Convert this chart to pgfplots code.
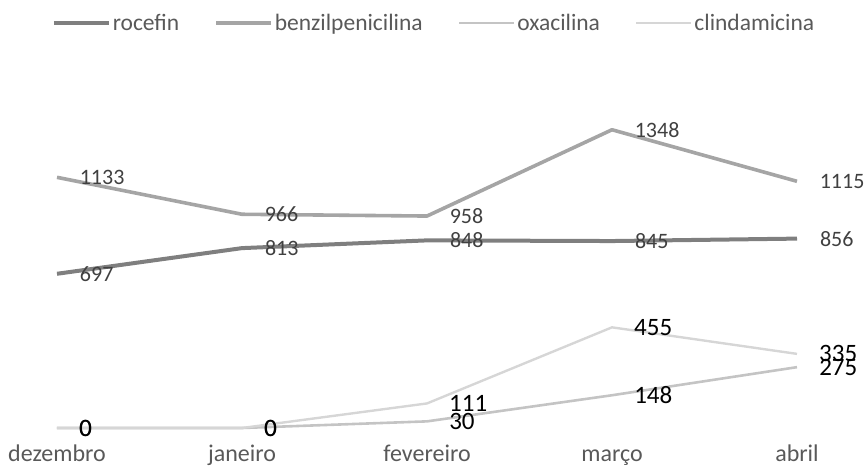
\documentclass[border=0pt]{standalone}
\usepackage{fontspec}
\setmainfont{Carlito}
\usepackage{pgfplots}
\pgfplotsset{compat=1.18}
\definecolor{cRoc}{HTML}{7F7F7F}
\definecolor{cBen}{HTML}{A5A5A5}
\definecolor{cOxa}{HTML}{C4C4C4}
\definecolor{cCli}{HTML}{D6D6D6}
\definecolor{txtgray}{HTML}{595959}
\definecolor{lblgray}{HTML}{404040}
\begin{document}
\begin{tikzpicture}
\path[use as bounding box] (-57pt,-41pt) rectangle (810pt,428pt);
\begin{axis}[
  at={(0pt,0pt)}, anchor=south west,
  scale only axis, width=740pt, height=354pt,
  xmin=0, xmax=4, ymin=0, ymax=1600,
  clip=false,
  axis line style={draw=none},
  major tick length=0pt,
  ytick=\empty,
  xtick={0,1,2,3,4},
  xticklabels={dezembro,janeiro,fevereiro,março,abril},
  xticklabel style={font=\fontsize{24}{28}\selectfont, text=txtgray, anchor=base, inner sep=0pt, yshift=-33pt},
  /pgf/number format/1000 sep={},
  /pgf/number format/assume math mode=true,
  line join=round,
  nodes near coords,
  every node near coord/.append style={anchor=west, xshift=21pt, inner sep=0pt},
  legend columns=4,
  legend style={draw=none, fill=none, at={(0.5,1)}, anchor=center, yshift=51pt, xshift=7pt,
    font=\fontsize{23.5}{27}\selectfont, text=txtgray,
    /tikz/every even column/.append style={column sep=33pt},
    /tikz/every odd column/.append style={column sep=0pt},
    cells={anchor=west}},
  legend image code/.code={\draw[#1] (0pt,0pt) -- (55pt,0pt);},
]
\addplot[cRoc, line width=4pt, every node near coord/.append style={font=\fontsize{22}{26}\selectfont, text=lblgray}]
  coordinates {(0,697) (1,813) (2,848) (3,845) (4,856)};
\addlegendentry{rocefin}
\addplot[cBen, line width=3.6pt, every node near coord/.append style={font=\fontsize{22}{26}\selectfont, text=lblgray}]
  coordinates {(0,1133) (1,966) (2,958) (3,1348) (4,1115)};
\addlegendentry{benzilpenicilina}
\addplot[cOxa, line width=2.6pt, every node near coord/.append style={font=\fontsize{25}{29}\selectfont, text=black}]
  coordinates {(0,0) (1,0) (2,30) (3,148) (4,275)};
\addlegendentry{oxacilina}
\addplot[cCli, line width=2.4pt, every node near coord/.append style={font=\fontsize{25}{29}\selectfont, text=black}]
  coordinates {(0,0) (1,0) (2,111) (3,455) (4,335)};
\addlegendentry{clindamicina}
\end{axis}
\end{tikzpicture}
\end{document}
